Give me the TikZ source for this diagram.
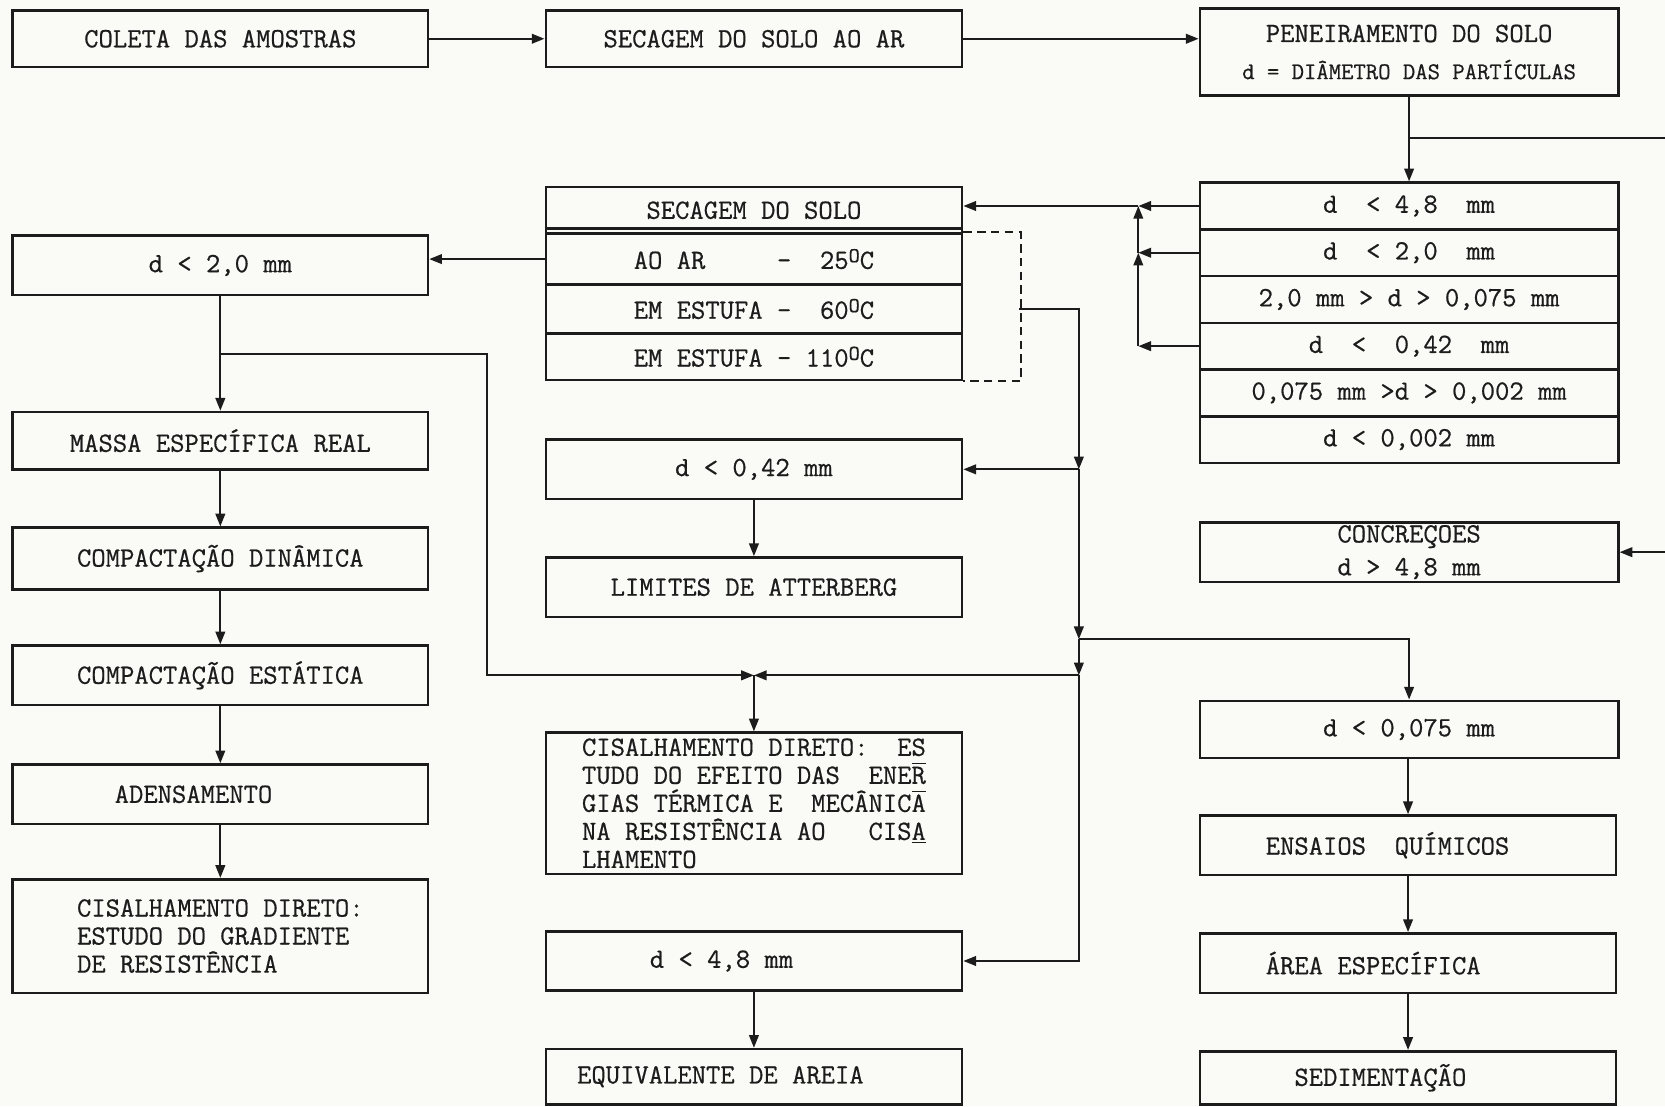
\documentclass[tikz,border=0pt]{standalone}
\usepackage{fontspec}
\setmonofont{Latin Modern Mono}[FakeBold=0.6]
\usetikzlibrary{arrows.meta}
\definecolor{bg}{RGB}{250,250,246}
\definecolor{ink}{RGB}{28,28,28}
\newcommand\ovbar[1]{$\overline{\hbox{#1}}$}
\newcommand\lb[2]{\makebox[#1][l]{#2}}
\newcommand\dg{\raisebox{0.55ex}{\fontsize{10}{10}\selectfont O}}
\begin{document}
\begin{tikzpicture}[x=0.5pt,y=-0.5pt,
  box/.style={draw=ink, line width=1.2pt, inner sep=0pt, align=center, text=ink,
    font=\ttfamily\fontsize{13.1}{11}\selectfont},
  multi/.style={align=left, font=\ttfamily\fontsize{13.1}{13.2}\selectfont},
  sz/.style 2 args={minimum width=#1*0.5pt, minimum height=#2*0.5pt},
  arr/.style={draw=ink, line width=1pt, -{Triangle[length=6pt,width=4.5pt]}},
  ln/.style={draw=ink, line width=1pt},
  dsh/.style={draw=ink, line width=1pt, dash pattern=on 4pt off 2.5pt}]
\useasboundingbox (0,0) rectangle (1568,1042);
\fill[bg] (0,0) rectangle (1568,1042);
\clip (0,0) rectangle (1568,1042);

% top row
\node[box, sz={391}{53}] (coleta) at (207.5,36.5) {COLETA DAS AMOSTRAS};
\node[box, sz={392}{53}] (secar) at (710,36.5) {SECAGEM DO SOLO AO AR};
\node[box, sz={394}{82}] (pene) at (1327,49) {PENEIRAMENTO DO SOLO\\[6.5pt]{\fontsize{11.3}{11}\selectfont d = DIÂMETRO DAS PARTÍCULAS}};

% sieve table
\node[box, sz={394}{44}] (r1) at (1327,194) {d~~<~4,8~~mm};
\node[box, sz={394}{44}] (r2) at (1327,238) {d~~<~2,0~~mm};
\node[box, sz={394}{44}] (r3) at (1327,282) {2,0 mm > d > 0,075 mm};
\node[box, sz={394}{44}] (r4) at (1327,326) {d~~<~~0,42~~mm};
\node[box, sz={394}{44}] (r5) at (1327,370) {0,075 mm >d > 0,002 mm};
\node[box, sz={394}{44}] (r6) at (1327,414) {d < 0,002 mm};

% drying table
\node[box, sz={392}{44}] (sec2h) at (710,198) {SECAGEM DO SOLO};
\draw[draw=ink, line width=1.2pt] ([yshift=3pt]sec2h.south west) -- ([yshift=3pt]sec2h.south east);
\node[box, sz={392}{48}] (sec2r1) at (710,244) {AO AR~~~~~-~~25\dg C};
\node[box, sz={392}{46}] (sec2r2) at (710,291) {EM ESTUFA -~~60\dg C};
\node[box, sz={392}{44}] (sec2r3) at (710,336) {EM ESTUFA - 110\dg C};

% left column
\node[box, sz={391}{56}] (d20) at (207.5,250) {d < 2,0 mm};
\node[box, sz={391}{54}] (massa) at (207.5,415) {MASSA ESPECÍFICA REAL};
\node[box, sz={391}{58}] (compdin) at (207.5,526) {COMPACTAÇÃO DINÂMICA};
\node[box, sz={391}{56}] (compest) at (207.5,636) {COMPACTAÇÃO ESTÁTICA};
\node[box, sz={391}{56}] (adens) at (207.5,748) {\lb{99.5pt}{ADENSAMENTO}};
\node[box, multi, sz={391}{107}] (cisal1) at (207.5,881.5) {CISALHAMENTO DIRETO:\\ESTUDO DO GRADIENTE\\DE RESISTÊNCIA};

% middle column
\node[box, sz={392}{56}] (d042) at (710,442) {d < 0,42 mm};
\node[box, sz={392}{56}] (atter) at (710,553) {LIMITES DE ATTERBERG};
\node[box, multi, sz={392}{133}] (cisal2) at (710,756.5) {CISALHAMENTO DIRETO:~~ES\\TUDO DO EFEITO DAS~~ENE\ovbar{R}\\GIAS TÉRMICA E~~MECÂNIC\ovbar{A}\\NA RESISTÊNCIA AO~~~CIS\underline{A}\\LHAMENTO};
\node[box, sz={392}{56}] (d48) at (710,905) {\lb{98pt}{d < 4,8 mm}};
\node[box, sz={392}{52}] (equiv) at (710,1014) {\lb{166.5pt}{EQUIVALENTE DE AREIA}};

% right column lower
\node[box, sz={394}{56}] (concr) at (1327,520) {CONCREÇOES\\[4.5pt]d > 4,8 mm};
\node[box, sz={394}{54}] (d0075) at (1327,687) {d < 0,075 mm};
\node[box, sz={392}{56}] (quim) at (1326,796) {\lb{134pt}{ENSAIOS~~QUÍMICOS}};
\node[box, sz={392}{56}] (area) at (1326,907) {\lb{134pt}{ÁREA ESPECÍFICA}};
\node[box, sz={392}{50}] (sedi) at (1326,1015) {\lb{107pt}{SEDIMENTAÇÃO}};

% junction coordinates
\coordinate (J0) at (1327,130);
\coordinate (E1) at (1600,130);
\coordinate (JA) at (1072,194);
\coordinate (JB) at (1072,238);
\coordinate (JC) at (1072,326);
\coordinate (B) at (960,291);
\coordinate (T1) at (1016,442);
\coordinate (T2) at (1016,602);
\coordinate (T3) at (1016,636);
\coordinate (J1) at (207.5,333);
\coordinate (K1) at (459,333);
\coordinate (J2) at (710,636);

% connectors
\draw[arr] (coleta) -- (secar);
\draw[arr] (secar.east) -- (secar.east -| pene.west);
\draw[arr] (pene) -- (r1);
\draw[arr] (J0) -- (E1) |- (concr.east);

\draw[arr] (r1.west) -- (JA);
\draw[arr] (r2.west) -- (JB);
\draw[arr] (r4.west) -- (JC);
\draw[arr] (JC) -- (JB);
\draw[arr] (JB) -- (JA);
\draw[arr] (JA) -- (JA -| sec2h.east);

\draw[arr] (sec2r1.west) -- (sec2r1.west -| d20.east);
\draw[dsh] (sec2r1.north east) -- ++(54,0) |- (sec2r3.south east);

\draw[arr] (B) -| (T1);
\draw[arr] (T1) -- (d042.east);
\draw[arr] (T1) -- (T2);
\draw[arr] (T2) -| (d0075.north);
\draw[arr] (T2) -- (T3);
\draw[arr] (T3) -- (J2);
\draw[arr] (T3) |- (d48.east);

\draw[arr] (d20) -- (massa);
\draw[arr] (J1) -- (K1) |- (J2);
\draw[arr] (J2) -- (cisal2.north);

\draw[arr] (massa) -- (compdin);
\draw[arr] (compdin) -- (compest);
\draw[arr] (compest) -- (adens);
\draw[arr] (adens) -- (cisal1);

\draw[arr] (d042) -- (atter);
\draw[arr] (d48) -- (equiv);

\draw[arr] (d0075.south -| quim.north) -- (quim.north);
\draw[arr] (quim) -- (area);
\draw[arr] (area) -- (sedi);
\end{tikzpicture}
\end{document}
